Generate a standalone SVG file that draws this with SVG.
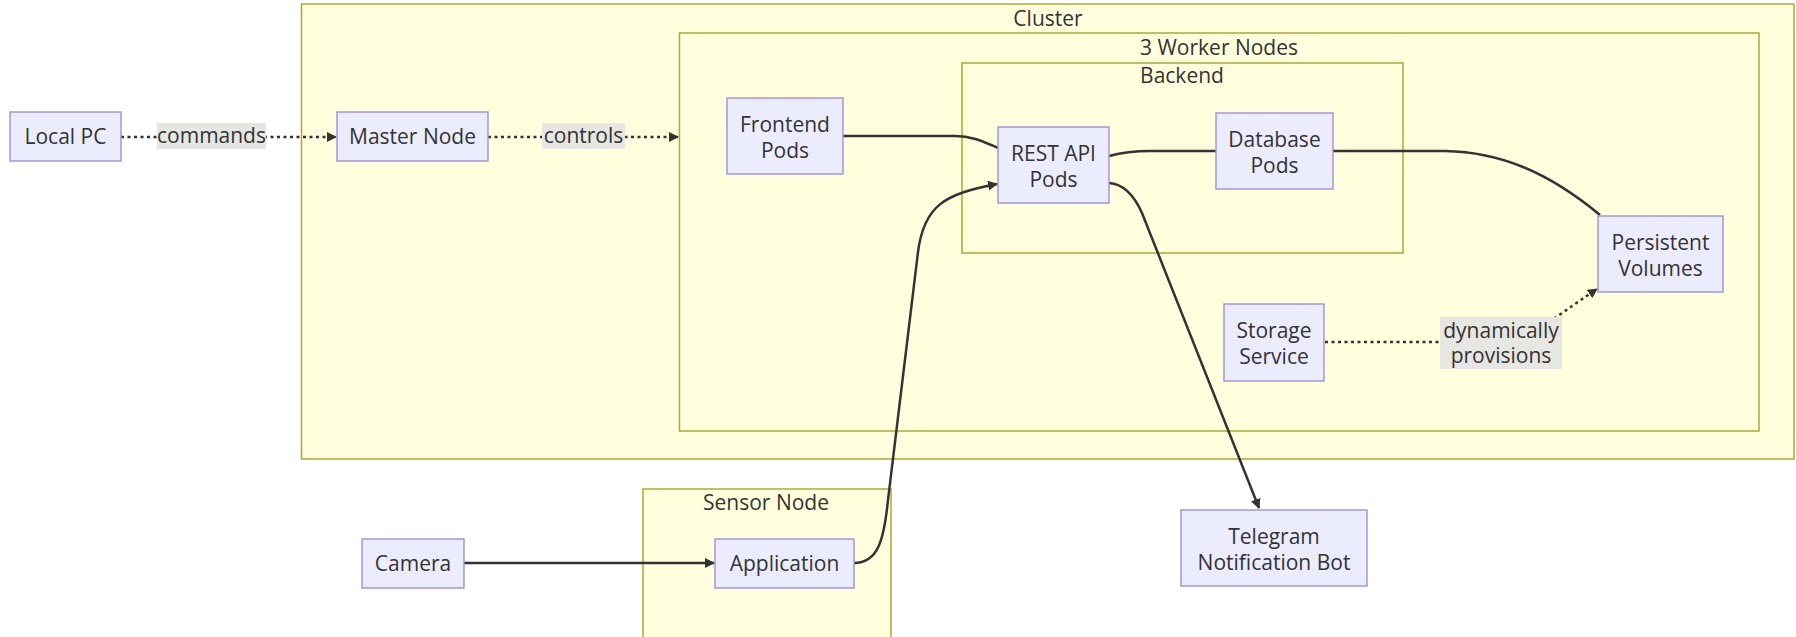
<svg xmlns="http://www.w3.org/2000/svg" width="1796" height="637" viewBox="0 0 1796 637">
<defs>
<style>
.cluster rect{fill:#ffffde;stroke:#aaaa33;stroke-width:1.5}
.node rect{fill:#ececff;stroke:#9f8fdf;stroke-width:1.4}
text{font-family:"Open Sans","Liberation Sans",sans-serif;font-size:21px;fill:#333;text-anchor:middle}
.edge{fill:none;stroke:#333;stroke-width:2.5}
.dot{stroke-dasharray:3 3.5}
.lbl{fill:#e6e6e3}
</style>
<marker id="arr" viewBox="0 0 10 10" refX="9" refY="5" markerWidth="10" markerHeight="10" markerUnits="userSpaceOnUse" orient="auto">
<path d="M0,0 L10,5 L0,10 z" fill="#333"/>
</marker>
</defs>
<rect width="1796" height="637" fill="#ffffff"/>

<g id="cluster-Cluster" class="cluster">
<rect x="301.5" y="4" width="1492.5" height="455"/>
<text x="1048" y="26">Cluster</text>
</g>
<g id="cluster-Workers" class="cluster">
<rect x="679.5" y="33" width="1079.5" height="398"/>
<text x="1219" y="55">3 Worker Nodes</text>
</g>
<g id="cluster-Backend" class="cluster">
<rect x="962" y="63" width="441" height="190"/>
<text x="1182" y="83">Backend</text>
</g>
<g id="cluster-Sensor" class="cluster">
<rect x="643" y="489" width="248" height="170"/>
<text x="766" y="510">Sensor Node</text>
</g>

<g id="connectors">
<path class="edge dot" d="M121,137 L336,137" marker-end="url(#arr)"/>
<path class="edge dot" d="M488,137 L678,137" marker-end="url(#arr)"/>
<path class="edge" d="M843,136 L955,136 C973,136 984,142 998,148"/>
<path class="edge" d="M1109,156 C1124,152 1134,151 1150,151 L1216,151"/>
<path class="edge" d="M1333,151 L1445,151 C1500,152 1548,172 1600,215"/>
<path class="edge dot" d="M1325,342 L1480,342 C1530,342 1550,320 1597,289" marker-end="url(#arr)"/>
<path class="edge" d="M464,563 L714,563" marker-end="url(#arr)"/>
<path class="edge" d="M854,563 C878,563 884,540 888,500 L918,252 C924,205 945,194 997,184" marker-end="url(#arr)"/>
<path class="edge" d="M1109,183 C1124,184 1134,195 1142,213 L1259,508" marker-end="url(#arr)"/>
<g id="edge-labels">
<rect class="lbl" x="157" y="123" width="109" height="26"/>
<text x="211.5" y="143">commands</text>
<rect class="lbl" x="542" y="123" width="83" height="26"/>
<text x="583.5" y="143">controls</text>
<rect class="lbl" x="1440" y="317" width="122" height="52"/>
<text x="1501" y="338">dynamically</text>
<text x="1501" y="363">provisions</text>
</g>
</g>

<g id="node-LocalPC" class="node">
<rect x="10" y="112" width="111" height="49"/>
<text x="65.5" y="144">Local PC</text>
</g>
<g id="node-Master" class="node">
<rect x="337" y="112" width="151" height="49"/>
<text x="412.5" y="144">Master Node</text>
</g>
<g id="node-Frontend" class="node">
<rect x="727" y="98" width="116" height="76"/>
<text x="785" y="132">Frontend</text>
<text x="785" y="158">Pods</text>
</g>
<g id="node-REST" class="node">
<rect x="998" y="127" width="111" height="76"/>
<text x="1053.5" y="161">REST API</text>
<text x="1053.5" y="187">Pods</text>
</g>
<g id="node-Database" class="node">
<rect x="1216" y="113" width="117" height="76"/>
<text x="1274.5" y="147">Database</text>
<text x="1274.5" y="173">Pods</text>
</g>
<g id="node-PV" class="node">
<rect x="1598" y="216" width="125" height="76"/>
<text x="1660.5" y="250">Persistent</text>
<text x="1660.5" y="276">Volumes</text>
</g>
<g id="node-Storage" class="node">
<rect x="1224" y="304" width="100" height="77"/>
<text x="1274" y="338">Storage</text>
<text x="1274" y="364">Service</text>
</g>
<g id="node-Telegram" class="node">
<rect x="1181" y="510" width="186" height="76"/>
<text x="1274" y="544">Telegram</text>
<text x="1274" y="570">Notification Bot</text>
</g>
<g id="node-Camera" class="node">
<rect x="362" y="539" width="102" height="49"/>
<text x="413" y="571">Camera</text>
</g>
<g id="node-Application" class="node">
<rect x="715" y="539" width="139" height="49"/>
<text x="784.5" y="571">Application</text>
</g>
</svg>
